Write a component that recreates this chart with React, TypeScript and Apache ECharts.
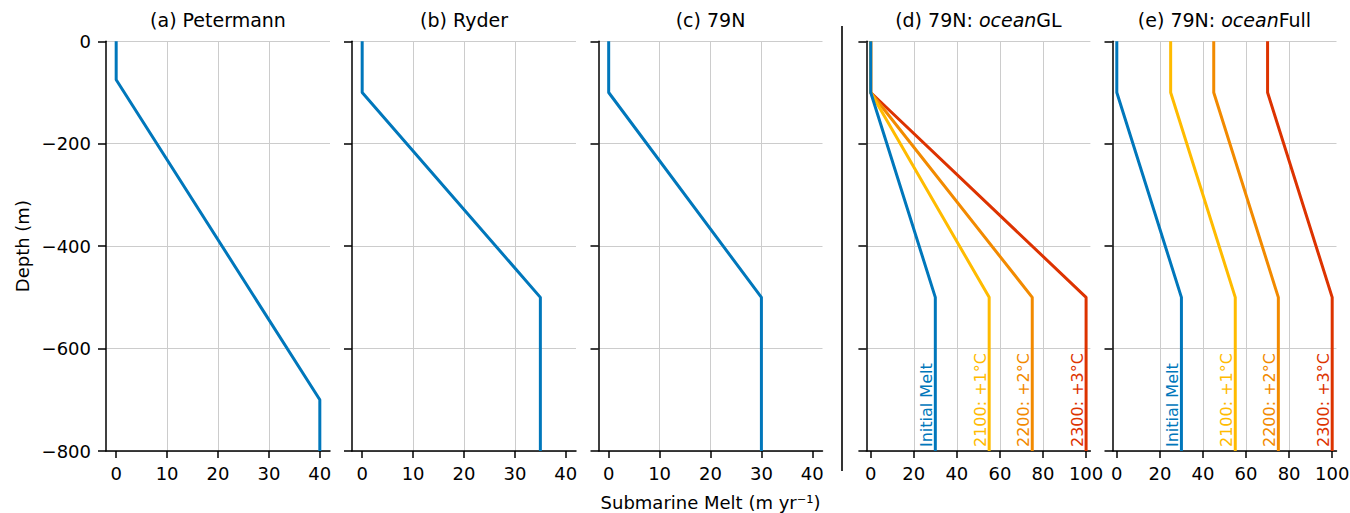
import React, { useEffect, useRef } from 'react';
import * as echarts from 'echarts';

// ---------- data ----------
const depthA = [0, -75, -700, -800];
const meltA = [0, 0, 40, 40];
const depthStd = [0, -100, -500, -800];
const meltB = [0, 0, 35, 35];
const meltC = [0, 0, 30, 30];
const meltInitial = [0, 0, 30, 30];
const meltGL2100 = [0, 0, 55, 55];
const meltGL2200 = [0, 0, 75, 75];
const meltGL2300 = [0, 0, 100, 100];
const meltFull2100 = [25, 25, 55, 55];
const meltFull2200 = [45, 45, 75, 75];
const meltFull2300 = [70, 70, 100, 100];

const panelTitles = [
  '(a) Petermann',
  '(b) Ryder',
  '(c) 79N',
  '(d) 79N: {i|ocean}GL',
  '(e) 79N: {i|ocean}Full',
];
const scenarioNames = ['Initial Melt', '2100: +1°C', '2200: +2°C', '2300: +3°C'];
const ticksSmall = [0, 10, 20, 30, 40];
const ticksLarge = [0, 20, 40, 60, 80, 100];
const xRangeSmall = [-2, 42];
const xRangeLarge = [-2, 102];
const depthRange = [-800, 0];
const depthInterval = 200;

// ---------- styles ----------
const FONT = 'DejaVu Sans';
const BLUE = '#0077bb';
const YELLOW = '#ffbb00';
const ORANGE = '#f28a00';
const RED = '#dd3300';
const scenarioColors = [BLUE, YELLOW, ORANGE, RED];
const GRID_LEFTS = [106, 352, 598.5, 866.4, 1112.5];
const GRID_W = 224;
const GRID_TOP = 41.3;
const GRID_H = 409.7;

const zip = (xs: number[], ys: number[]) => xs.map((x, i) => [x, ys[i]]);
const minusFmt = (v: number) => (v < 0 ? '\u2212' + Math.abs(v) : String(v));

export default function App() {
  const ref = useRef<HTMLDivElement>(null);

  useEffect(() => {
    if (!ref.current) return;
    const chart = echarts.init(ref.current, undefined, { renderer: 'svg' });

    const grids = GRID_LEFTS.map((left) => ({
      left,
      top: GRID_TOP,
      width: GRID_W,
      height: GRID_H,
      containLabel: false,
      outerBoundsMode: 'none',
    }));

    const xAxes = GRID_LEFTS.map((_, i) => {
      const large = i >= 3;
      const ticks = large ? ticksLarge : ticksSmall;
      const range = large ? xRangeLarge : xRangeSmall;
      return {
        type: 'value',
        gridIndex: i,
        min: range[0],
        max: range[1],
        position: 'bottom',
        axisLine: { show: true, onZero: false, lineStyle: { color: '#000', width: 1.5 } },
        axisTick: { show: true, inside: false, length: 7, lineStyle: { color: '#000', width: 1.5 }, customValues: ticks },
        axisLabel: {
          show: true,
          customValues: ticks,
          fontSize: 18,
          fontFamily: FONT,
          color: '#000',
          margin: 13,
          formatter: (v: number) => minusFmt(v),
        },
        splitLine: { show: true, showMinLine: false, showMaxLine: false, lineStyle: { color: '#cccccc', width: 1 } },
      };
    });

    const yAxes = GRID_LEFTS.map((_, i) => ({
      type: 'value',
      gridIndex: i,
      min: depthRange[0],
      max: depthRange[1],
      interval: depthInterval,
      axisLine: { show: true, onZero: false, lineStyle: { color: '#000', width: 1.5 } },
      axisTick: { show: true, inside: false, length: 8, lineStyle: { color: '#000', width: 1.5 } },
      axisLabel: {
        show: i === 0,
        fontSize: 18,
        fontFamily: FONT,
        color: '#000',
        margin: 15,
        formatter: (v: number) => minusFmt(v),
      },
      splitLine: { show: true, lineStyle: { color: '#cccccc', width: 1 } },
    }));

    const mkLine = (idx: number, melt: number[], depth: number[], color: string, z: number) => ({
      type: 'line',
      xAxisIndex: idx,
      yAxisIndex: idx,
      data: zip(melt, depth),
      symbol: 'none',
      showSymbol: false,
      lineStyle: { color, width: 3 },
      itemStyle: { color },
      z,
      silent: true,
    });

    const glMelts = [meltInitial, meltGL2100, meltGL2200, meltGL2300];
    const fullMelts = [meltInitial, meltFull2100, meltFull2200, meltFull2300];

    const series: any[] = [
      mkLine(0, meltA, depthA, BLUE, 2),
      mkLine(1, meltB, depthStd, BLUE, 2),
      mkLine(2, meltC, depthStd, BLUE, 2),
    ];
    [3, 2, 1, 0].forEach((k) => {
      series.push(mkLine(3, glMelts[k], depthStd, scenarioColors[k], 2 + (3 - k) * 0.1));
      series.push(mkLine(4, fullMelts[k], depthStd, scenarioColors[k], 2 + (3 - k) * 0.1));
    });

    const titleGraphics = panelTitles.map((t, i) => ({
      type: 'text',
      x: GRID_LEFTS[i] + GRID_W / 2,
      y: 20,
      style: {
        text: t,
        fontSize: 19,
        fontFamily: FONT,
        fill: '#000',
        align: 'center',
        textAlign: 'center',
        verticalAlign: 'middle',
        textVerticalAlign: 'middle',
        rich: {
          i: { fontStyle: 'italic', fontSize: 19, fontFamily: FONT, fill: '#000' },
        },
      },
    }));

    chart.setOption({
      animation: false,
      backgroundColor: '#ffffff',
      grid: grids,
      xAxis: xAxes,
      yAxis: yAxes,
      series,
    });

    // labels placed through the library's coordinate system
    const labelGraphics: any[] = [];
    [3, 4].forEach((gi) => {
      const melts = gi === 3 ? glMelts : fullMelts;
      melts.forEach((m, k) => {
        const p = chart.convertToPixel({ gridIndex: gi } as any, [m[m.length - 1], depthStd[depthStd.length - 1]]) as number[];
        labelGraphics.push({
          type: 'text',
          x: p[0] - 1,
          y: p[1] - 4,
          rotation: Math.PI / 2,
          style: {
            text: scenarioNames[k],
            fontSize: 16,
            fontFamily: FONT,
            fill: scenarioColors[k],
            align: 'left',
            textAlign: 'left',
            verticalAlign: 'bottom',
            textVerticalAlign: 'bottom',
          },
          z: 10,
        });
      });
    });

    chart.setOption({
      graphic: [
        ...titleGraphics,
        ...labelGraphics,
        {
          type: 'text',
          x: 22,
          y: GRID_TOP + GRID_H / 2,
          rotation: Math.PI / 2,
          style: {
            text: 'Depth (m)',
            fontSize: 18,
            fontFamily: FONT,
            fill: '#000',
            align: 'center',
            textAlign: 'center',
            verticalAlign: 'middle',
            textVerticalAlign: 'middle',
          },
        },
        {
          type: 'text',
          x: GRID_LEFTS[2] + GRID_W / 2,
          y: 502,
          style: {
            text: 'Submarine Melt (m yr\u207B\u00B9)',
            fontSize: 18,
            fontFamily: FONT,
            fill: '#000',
            align: 'center',
            textAlign: 'center',
            verticalAlign: 'middle',
            textVerticalAlign: 'middle',
          },
        },
        {
          type: 'line',
          shape: { x1: 842, y1: 26, x2: 842, y2: 471 },
          style: { stroke: '#000', lineWidth: 1.6 },
        },
      ],
    });

    return () => chart.dispose();
  }, []);

  return (
    <div
      ref={ref}
      style={{ position: 'fixed', left: 0, top: 0, width: 1350, height: 513, background: '#fff' }}
    />
  );
}
